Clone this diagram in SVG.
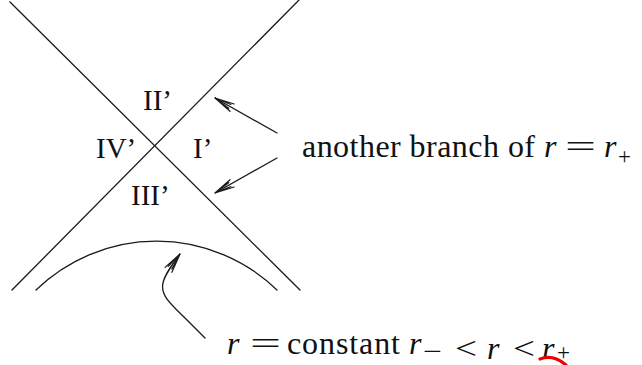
<svg xmlns="http://www.w3.org/2000/svg" width="642" height="365" viewBox="0 0 642 365">
  <style>
    .ln { fill: none; stroke: #1a1a1a; stroke-width: 1.3; stroke-linecap: round; }
    .arw { fill: none; stroke: #1a1a1a; stroke-width: 1.3; stroke-linecap: round; marker-end: url(#head); }
    .lbl { font-family: "Liberation Serif", "Times New Roman", serif; font-size: 29px; fill: #111; }
    .txt { font-family: "Liberation Serif", "Times New Roman", serif; font-size: 32px; fill: #111; }
    .it { font-style: italic; }
    .sub { font-size: 23px; }
  </style>
  <defs>
    <marker id="head" markerUnits="userSpaceOnUse" viewBox="-22 -6 24 12" markerWidth="24" markerHeight="12" refX="0" refY="0" orient="auto" overflow="visible">
      <path d="M-19.6,-4.2 L0,0 L-19.6,4.2 M-17,-2.2 L0,0 L-17,2.2" fill="none" stroke="#1a1a1a" stroke-width="1.2" stroke-linecap="round" stroke-linejoin="miter"/>
    </marker>
  </defs>
  <rect width="642" height="365" fill="#ffffff"/>

  <g id="horizons">
    <line class="ln" x1="10" y1="2" x2="300" y2="290"/>
    <line class="ln" x1="299" y1="0" x2="12" y2="290"/>
  </g>
  <g id="constant-r-curve">
    <path class="ln" d="M36,290 A173,173 0 0 1 277,290"/>
  </g>

  <g id="connectors">
    <line class="arw" x1="277" y1="133" x2="215" y2="98"/>
    <line class="arw" x1="277" y1="158" x2="215" y2="193"/>
    <path class="arw" d="M205,338 L188,321 C172,305 160,296 163,283 C165,274 172,265 180,254"/>
  </g>

  <g id="region-II"><text class="lbl" x="143" y="110">II’</text></g>
  <g id="region-IV"><text class="lbl" x="96" y="158">IV’</text></g>
  <g id="region-I"><text class="lbl" x="193" y="158">I’</text></g>
  <g id="region-III"><text class="lbl" x="131" y="205">III’</text></g>

  <g id="label-branch">
    <text class="txt" y="157"><tspan x="302" textLength="233" lengthAdjust="spacing">another branch of</tspan><tspan class="it" x="544">r</tspan><tspan x="565" textLength="31" lengthAdjust="spacingAndGlyphs">=</tspan><tspan class="it" x="604">r</tspan><tspan class="sub" x="618" y="164">+</tspan></text>
  </g>

  <g id="label-constant">
    <text class="txt" y="354"><tspan class="it" x="227">r</tspan><tspan x="250" textLength="31" lengthAdjust="spacingAndGlyphs">=</tspan><tspan x="287" textLength="113" lengthAdjust="spacing">constant</tspan><tspan class="it" x="409">r</tspan><tspan class="sub" x="423" y="359" textLength="19" lengthAdjust="spacingAndGlyphs">−</tspan><tspan x="455" textLength="22" lengthAdjust="spacingAndGlyphs">&lt;</tspan><tspan class="it" x="487">r</tspan><tspan x="513" textLength="22" lengthAdjust="spacingAndGlyphs">&lt;</tspan><tspan class="it" x="542">r</tspan><tspan class="sub" x="557" y="360">+</tspan></text>
  </g>

  <g id="red-mark">
    <path d="M540,359 Q553,354 566,365" fill="none" stroke="#ee0000" stroke-width="3.2" stroke-linecap="round"/>
  </g>
</svg>
